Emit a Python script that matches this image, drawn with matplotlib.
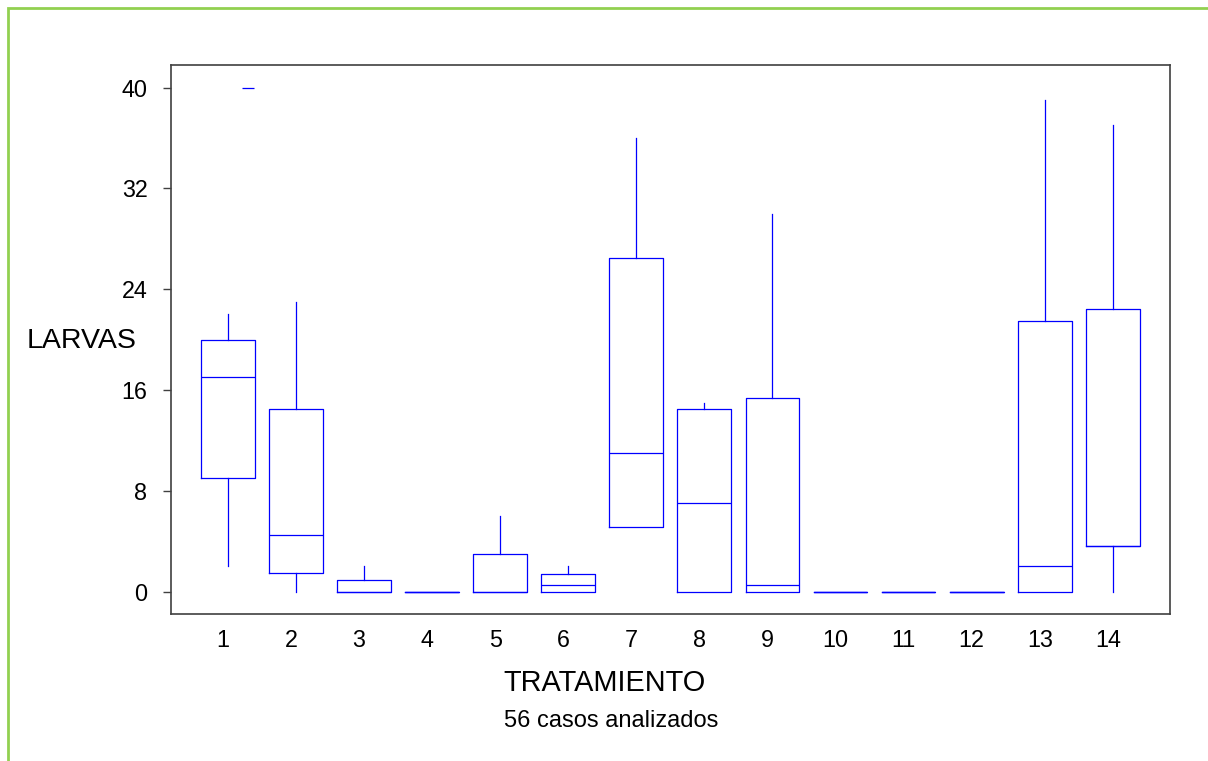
import matplotlib.pyplot as plt
from matplotlib.patches import Rectangle
from matplotlib.transforms import ScaledTranslation

plt.rcParams['font.family'] = ['Liberation Sans', 'DejaVu Sans']

# Box plot summary per treatment
tratamientos = ['1', '2', '3', '4', '5', '6', '7', '8', '9', '10', '11', '12',
                '13', '14']
whis_lo = [2, 0, 0, 0, 0, 0, 5.1, 0, 0, 0, 0, 0, 0, 0]
q1 = [9, 1.5, 0, 0, 0, 0, 5.1, 0, 0, 0, 0, 0, 0, 3.6]
mediana = [17, 4.5, 0, 0, 0, 0.5, 11, 7, 0.5, 0, 0, 0, 2, 3.6]
q3 = [20, 14.5, 0.95, 0, 3, 1.4, 26.5, 14.5, 15.4, 0, 0, 0, 21.5, 22.4]
whis_hi = [22, 23, 2, 0, 6, 2, 36, 15, 30, 0, 0, 0, 39, 37]
atipicos = [[40], [], [], [], [], [], [], [], [], [], [], [], [], []]

fig = plt.figure(figsize=(12.08, 7.61), dpi=100)
ax = fig.add_axes([0.1416, 0.1932, 0.8269, 0.7214])

stats = []
for i in range(len(tratamientos)):
    stats.append({'med': mediana[i], 'q1': q1[i], 'q3': q3[i],
                  'whislo': whis_lo[i], 'whishi': whis_hi[i], 'fliers': []})

posiciones = list(range(1, len(tratamientos) + 1))
azul = '#0000ff'
ax.bxp(stats, positions=posiciones, widths=0.79, showcaps=False,
       showfliers=False,
       boxprops=dict(color=azul, linewidth=0.9),
       whiskerprops=dict(color=azul, linewidth=0.9),
       medianprops=dict(color=azul, linewidth=0.9))

# outliers drawn as a short dash, a bit to the right of the box
for pos, vals in zip(posiciones, atipicos):
    for v in vals:
        ax.plot(pos + 0.29, v, marker='_', color=azul, markersize=9,
                markeredgewidth=0.9, linestyle='none')

ax.set_xlim(0.166, 14.84)
ax.set_ylim(-1.77, 41.79)
ax.set_yticks([0, 8, 16, 24, 32, 40])
ax.set_xticks(posiciones)
ax.set_xticklabels(tratamientos)
ax.tick_params(axis='y', length=6, width=1, color='#404040', pad=11,
               labelsize=16.8)
ax.tick_params(axis='x', length=0, pad=11, labelsize=16.8)

# x labels sit a few pixels left of the box centres in the original
shift = ScaledTranslation(-5 / 100, 0, fig.dpi_scale_trans)
for lab in ax.get_xticklabels():
    lab.set_transform(lab.get_transform() + shift)

for sp in ax.spines.values():
    sp.set_color('#404040')
    sp.set_linewidth(1.2)

fig.text(82 / 1208, 1 - 341 / 761, 'LARVAS', fontsize=20.5,
         ha='center', va='center')
fig.text(605 / 1208, 1 - 683 / 761, 'TRATAMIENTO', fontsize=20.8,
         ha='center', va='center')
fig.text(611 / 1208, 1 - 721 / 761, '56 casos analizados', fontsize=17,
         ha='center', va='center')

# green frame around the whole picture
fig.patches.append(Rectangle((8 / 1208, -0.1), 1.2, 1 - 8 / 761 + 0.1,
                             transform=fig.transFigure, fill=False,
                             edgecolor='#92d050', linewidth=2))

fig.savefig('out.png', dpi=100)
